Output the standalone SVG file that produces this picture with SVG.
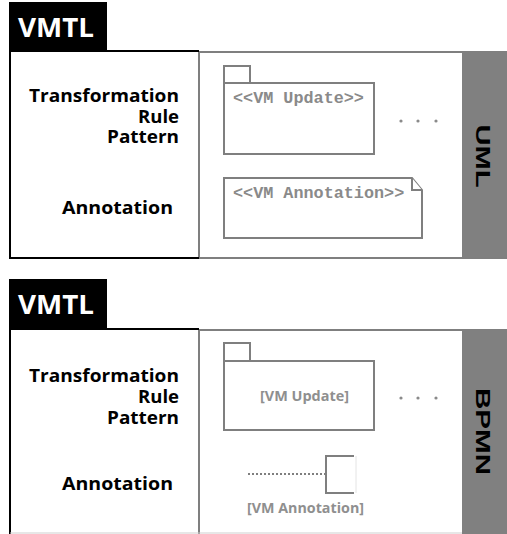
<svg xmlns="http://www.w3.org/2000/svg" width="507" height="534" viewBox="0 0 507 534">
<defs>
<style>
.tag{fill:#000}
.tagtxt{font-family:"Open Sans","Liberation Sans",sans-serif;font-weight:bold;font-size:27px;fill:#fff}
.lbl{font-family:"Open Sans","Liberation Sans",sans-serif;font-weight:bold;font-size:18.5px;fill:#000;text-anchor:end}
.blk{fill:none;stroke:#000;stroke-width:2}
.gbox{fill:#fff;stroke:#7f7f7f;stroke-width:2}
.bar{fill:#808080}
.bartxt{font-family:"Liberation Sans",Arial,sans-serif;font-weight:bold;font-size:21px;fill:#000;text-anchor:middle}
.shape{fill:#fff;stroke:#7f7f7f;stroke-width:2}
.mono{font-family:"Liberation Mono","Courier New",monospace;font-weight:bold;font-size:16.8px;fill:#8a8a8a}
.gtxt{font-family:"Open Sans","Liberation Sans",sans-serif;font-weight:bold;font-size:14px;fill:#8f8f8f;text-anchor:middle}
.dot{fill:#8a8a8a}
</style>
</defs>

<!-- UML panel -->
<g id="uml-panel">
  <rect class="gbox" x="199" y="52" width="310" height="206"/>
  <rect class="bar" x="462" y="52" width="45" height="205"/>
  <path class="blk" d="M10,51 H199 M10,50 V258 H199"/>
  <rect class="tag" x="9" y="2" width="98" height="49"/>
  <text class="tagtxt" x="56" y="37" text-anchor="middle" textLength="76" lengthAdjust="spacingAndGlyphs">VMTL</text>
  <text class="lbl" x="179" y="102" textLength="150" lengthAdjust="spacingAndGlyphs">Transformation</text>
  <text class="lbl" x="179" y="123" textLength="41" lengthAdjust="spacingAndGlyphs">Rule</text>
  <text class="lbl" x="179" y="143" textLength="72" lengthAdjust="spacingAndGlyphs">Pattern</text>
  <text class="lbl" x="173" y="214" textLength="111" lengthAdjust="spacingAndGlyphs">Annotation</text>
  <text class="bartxt" transform="translate(476,156) rotate(90)" textLength="63" lengthAdjust="spacingAndGlyphs">UML</text>
</g>

<g id="uml-update">
  <rect class="shape" x="224" y="66" width="26" height="17"/>
  <rect class="shape" x="224" y="83" width="150" height="71"/>
  <text class="mono" x="233" y="103">&lt;&lt;VM Update&gt;&gt;</text>
</g>
<g id="uml-dots">
  <circle class="dot" cx="401" cy="121" r="1.6"/>
  <circle class="dot" cx="418" cy="121" r="1.6"/>
  <circle class="dot" cx="436" cy="121" r="1.6"/>
</g>
<g id="uml-annotation">
  <path class="shape" d="M224,178 H412 L422,190 V238 H224 Z"/>
  <path class="shape" d="M412,178 V190 H422" fill="none"/>
  <text class="mono" x="233" y="198">&lt;&lt;VM Annotation&gt;&gt;</text>
</g>

<!-- BPMN panel -->
<g id="bpmn-panel">
  <rect class="gbox" x="199" y="330" width="310" height="210"/>
  <rect class="bar" x="462" y="330" width="45" height="204"/>
  <path class="blk" d="M10,329 H199 M10,328 V536"/>
  <line x1="10" y1="533" x2="462" y2="533" stroke="#cfcfcf" stroke-width="1"/>
  <rect class="tag" x="9" y="279" width="98" height="49"/>
  <text class="tagtxt" x="56" y="314" text-anchor="middle" textLength="76" lengthAdjust="spacingAndGlyphs">VMTL</text>
  <text class="lbl" x="179" y="382" textLength="150" lengthAdjust="spacingAndGlyphs">Transformation</text>
  <text class="lbl" x="179" y="403" textLength="41" lengthAdjust="spacingAndGlyphs">Rule</text>
  <text class="lbl" x="179" y="424" textLength="72" lengthAdjust="spacingAndGlyphs">Pattern</text>
  <text class="lbl" x="173" y="490" textLength="111" lengthAdjust="spacingAndGlyphs">Annotation</text>
  <text class="bartxt" transform="translate(476,431.5) rotate(90)" textLength="87" lengthAdjust="spacingAndGlyphs">BPMN</text>
</g>

<g id="bpmn-update">
  <rect class="shape" x="224" y="343" width="26" height="18"/>
  <rect class="shape" x="224" y="361" width="150" height="69"/>
  <text class="gtxt" x="304.5" y="401" textLength="89" lengthAdjust="spacingAndGlyphs">[VM Update]</text>
</g>
<g id="bpmn-dots">
  <circle class="dot" cx="401" cy="398" r="1.6"/>
  <circle class="dot" cx="418" cy="398" r="1.6"/>
  <circle class="dot" cx="436" cy="398" r="1.6"/>
</g>
<g id="bpmn-annotation">
  <line x1="248" y1="474" x2="326" y2="474" stroke="#7f7f7f" stroke-width="2" stroke-dasharray="2,2"/>
  <line x1="356" y1="456" x2="356" y2="493" stroke="#e4e4e4" stroke-width="1"/>
  <path d="M354,456 H326 V493 H354" fill="none" stroke="#7f7f7f" stroke-width="2"/>
  <text class="gtxt" x="305.5" y="513" textLength="117" lengthAdjust="spacingAndGlyphs">[VM Annotation]</text>
</g>
</svg>
